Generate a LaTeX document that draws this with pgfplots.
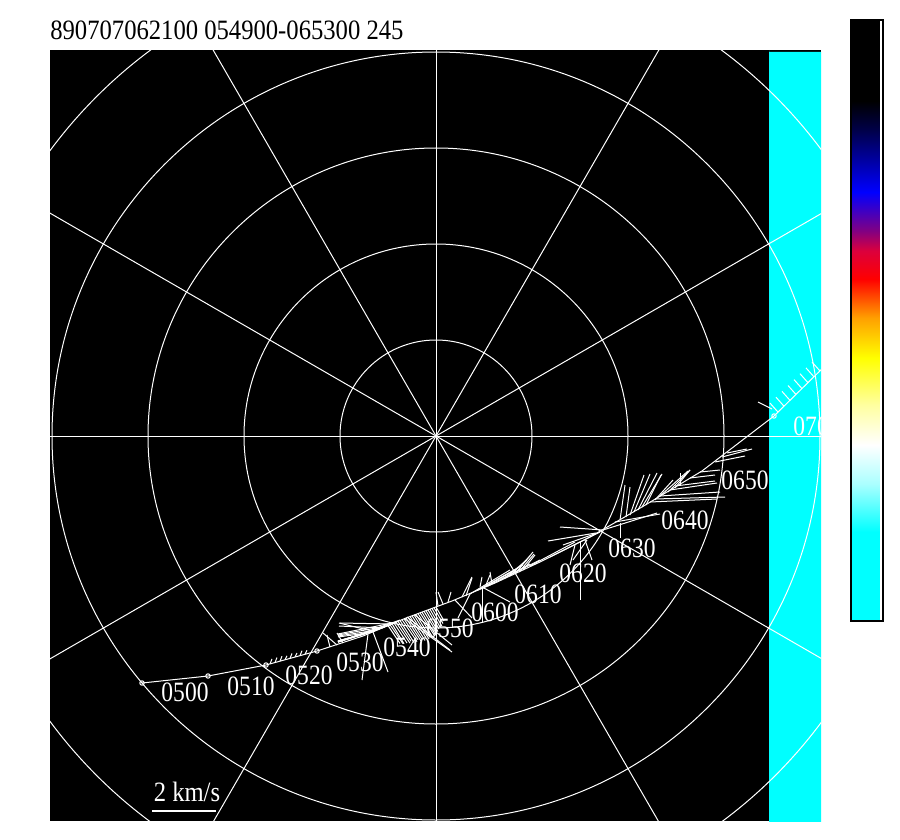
\documentclass[border=0pt]{standalone}
\usepackage{pgfplots}
\pgfplotsset{compat=1.18}
\usepackage{fontspec}
\setmainfont{Liberation Serif}
\definecolor{cy}{RGB}{0,255,255}
\pgfplotsset{colormap={radar}{rgb255(0pt)=(0,255,255); rgb255(89pt)=(0,255,255); rgb255(137pt)=(170,255,255); rgb255(176pt)=(255,255,255); rgb255(216pt)=(255,255,160); rgb255(263pt)=(255,255,0); rgb255(303pt)=(255,160,0); rgb255(342pt)=(255,0,0); rgb255(370pt)=(220,0,60); rgb255(390pt)=(130,0,130); rgb255(429pt)=(0,0,255); rgb255(492pt)=(0,0,70); rgb255(520pt)=(0,0,0); rgb255(601pt)=(0,0,0)}}
\newcommand\lab{\fontsize{14}{16}\selectfont}

\pgfplotstableread{
x y
142 683
208 676
266 665
317 651
363 636
406 618
452 601
495 583
540 562
590 537
642 507
702 471
774 416
830 361
}\track

\pgfplotstableread{
x y
142 683
208 676
266 665
317 651
774 416
}\marks

\pgfplotstableread{
x y u v
270 663.9 2 -5
275 662.5 2 -5
280 661.2 2 -5
285 659.8 2 -4
290 658.4 2 -5
295 657.0 2 -4
300 655.7 2 -5
305 654.3 2 -4
330 647 -3 -12
337 645 -14 -12
343 643 -6 -10
365 634 -27 8
367 633 -29 4
370 632 -32 9
375 631 -37 10
377 630 -39 6
380 629 -42 12
383 628 -44 -2
385 627 -47 15
387 626 -49 9
390 625 -52 17
393 624 -53 -1
395 623 -57 19
397 622 -59 12
400 620 -62 22
372 631 -33 -8
368 634 -6 46
373 632 15 40
388 625.5 12 18
390 624.7 13 19
392 623.8 12 20
394 623.0 13 20
396 622.2 14 21
398 621.3 13 20
400 620.5 14 22
402 619.7 15 22
404 618.8 14 21
406 618 15 23
408 617.3 14 22
410 616.5 15 24
412 615.8 14 22
414 615.0 15 24
416 614.3 14 23
418 613.6 15 24
420 612.8 14 22
422 612.1 13 22
424 611.3 12 20
426 610.6 12 21
428 609.9 11 19
430 609.1 10 18
432 608.4 10 18
434 607.6 9 16
436 606.9 8 14
405 619 47 33
415 615 37 30
407 617 43 33
438 606 -2 -14
443 604 -5 -12
448 602 3 -10
455 600 17 18
462 597 10 -20
466 596 6 -18
470 594 -12 24
470 594 40 -24
478 590 45 -25
483 588 32 -18
488 586 42 -22
480 587 2 -10
486 585 4 -10
492 584 -2 -12
482 588 0 35
482 587 28 15
505 578 22 -18
510 576 20 -20
515 574 18 -22
519 572 15 -18
523 570 12 -15
500 580 40 -20
530 566 45 -24
550 557 50 -25
580 542 0 58
575 545 -5 20
585 540 7 20
587 540 -14 20
603 530 -43 -3
600 532 -37 13
596 533 -48 8
620 523 0 15
603 530 54 -17
615 522 45 -8
620 520 5 -35
626 517 4 -30
630 515 14 -40
634 512 16 -38
638 510 19 -37
642 507 20 -33
646 505 15 -30
650 502 67 -3
655 499 70 -2
660 496 60 -4
670 490 47 -7
675 486 40 -5
690 478 25 -3
700 472 20 -2
715 462 30 -6
722 457 30 -8
727 453 20 -4
680 485 0 -12
655 500 18 -20
660 496 28 -25
668 492 22 -22
675 488 15 -18
772 409 -14 -7
778 412.1 -8 -9
784 406.2 -8 -9
790 400.4 -8 -9
796 394.5 -8 -9
802 388.6 -8 -9
808 382.7 -8 -9
814 376.9 -8 -9
820 371 -8 -9
}\vecs

\begin{document}
\begin{tikzpicture}
\begin{axis}[
  scale only axis, width=385.5pt, height=385.5pt,
  xmin=50, xmax=821, ymin=50, ymax=821, y dir=reverse,
  xtick=\empty, ytick=\empty,
  axis line style={draw=none},
  axis background/.style={fill=black},
  clip=true,
  colorbar, colormap name=radar, point meta min=0, point meta max=1,
  colorbar style={at={(parent axis.north east)}, anchor=north west,
    xshift=6.5pt, yshift=15pt, width=16pt, height=300.5pt, scale only axis,
    ytick=\empty, xtick=\empty, axis line style={black, line width=0.6pt}},
]
\addplot[fill=cy, draw=none] coordinates {(769,52) (822,52) (822,822) (769,822)} \closedcycle;
\foreach \r in {96,192,288,384,480,576} {
  \edef\temp{\noexpand\draw[white, line width=0.5pt] (axis cs:436,436) circle [radius=\r];}
  \temp
}
\pgfplotsinvokeforeach{0,30,60,90,120,150}{
  \draw[white, line width=0.5pt] (axis cs:{436-800*cos(#1)},{436+800*sin(#1)}) -- (axis cs:{436+800*cos(#1)},{436-800*sin(#1)});
}
\addplot[white, line width=0.5pt] table {\track};
\addplot[white, line width=0.5pt, quiver={u=\thisrow{u}, v=\thisrow{v}}] table {\vecs};
\addplot[only marks, mark=o, mark size=1.1pt, white, mark options={line width=0.5pt}] table {\marks};
\addplot[white, line width=0.6pt] coordinates {(152,811) (216,811)};
\node[white, font=\lab, xscale=0.88, inner sep=0pt] at (axis cs:187,792) {2 km/s};
\node[white, font=\lab, xscale=0.84, inner sep=0pt] at (axis cs:185,692) {0500};
\node[white, font=\lab, xscale=0.84, inner sep=0pt] at (axis cs:251,686) {0510};
\node[white, font=\lab, xscale=0.84, inner sep=0pt] at (axis cs:309,675) {0520};
\node[white, font=\lab, xscale=0.84, inner sep=0pt] at (axis cs:360,662) {0530};
\node[white, font=\lab, xscale=0.84, inner sep=0pt] at (axis cs:407,647) {0540};
\node[white, font=\lab, xscale=0.84, inner sep=0pt] at (axis cs:450,628) {0550};
\node[white, font=\lab, xscale=0.84, inner sep=0pt] at (axis cs:495,612) {0600};
\node[white, font=\lab, xscale=0.84, inner sep=0pt] at (axis cs:538,594) {0610};
\node[white, font=\lab, xscale=0.84, inner sep=0pt] at (axis cs:583,573) {0620};
\node[white, font=\lab, xscale=0.84, inner sep=0pt] at (axis cs:632,548) {0630};
\node[white, font=\lab, xscale=0.84, inner sep=0pt] at (axis cs:685,520) {0640};
\node[white, font=\lab, xscale=0.84, inner sep=0pt] at (axis cs:745,480) {0650};
\node[white, font=\lab, xscale=0.84, inner sep=0pt] at (axis cs:817,426) {0700};
\coordinate (bbA) at (axis cs:0,0);
\coordinate (bbB) at (axis cs:900,840);
\coordinate (titlept) at (axis cs:50,40);
\end{axis}
\node[anchor=base west, inner sep=0pt, font=\lab, xscale=0.88] at (titlept) {890707062100 054900-065300 245};
\pgfresetboundingbox
\path[use as bounding box] (bbA) rectangle (bbB);
\end{tikzpicture}
\end{document}
